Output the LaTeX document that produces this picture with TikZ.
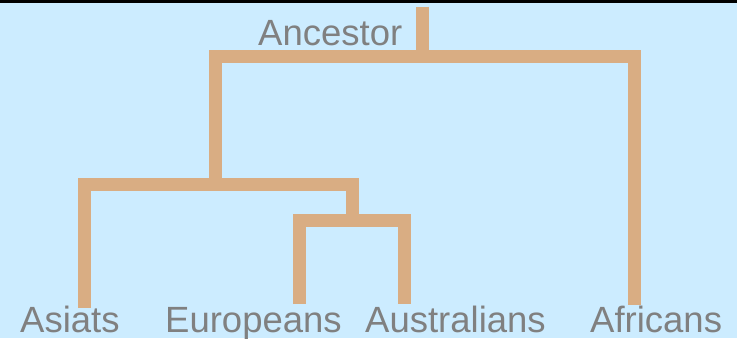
\documentclass[tikz,border=0pt]{standalone}
\usepackage{fontspec}
\setmainfont{Liberation Sans}
\definecolor{skyback}{HTML}{CCECFF}
\definecolor{branch}{HTML}{D9AD83}
\definecolor{labelgray}{HTML}{808080}
\begin{document}
\begin{tikzpicture}[x=1pt,y=-1pt,
  limb/.style={draw=branch,line width=13pt,line join=miter,line cap=butt},
  lab/.style={inner sep=0pt,text=labelgray,font=\fontsize{36.5}{40}\selectfont,anchor=base west}]
  % background and top rule
  \fill[skyback] (0,0) rectangle (737,338);
  \useasboundingbox (0,0) rectangle (737,338);
  \fill[black] (0,0) rectangle (737,2.5);

  % tree points
  \coordinate (top)  at (422.5,6.5);
  \coordinate (root) at (422.5,56);
  \coordinate (n1)   at (215,184.5);
  \coordinate (n2)   at (352.5,220.5);
  \coordinate (asE)  at (84,308);
  \coordinate (euE)  at (299.5,304);
  \coordinate (auE)  at (404.5,304);
  \coordinate (afE)  at (634.5,305);

  % branches
  \draw[limb] (top) -- (root);
  \draw[limb] (n1) |- (root) -| (afE);
  \draw[limb] (asE) |- (n1) -| (n2);
  \draw[limb] (euE) |- (n2) -| (auE);

  % labels
  \node[lab] (anc) at (258,45)  {Ancestor};
  \node[lab] (as)  at (20,332)  {Asiats};
  \node[lab] (eu)  at (165,332) {Europeans};
  \node[lab] (au)  at (365,332) {Australians};
  \node[lab] (af)  at (590,332) {Africans};
\end{tikzpicture}
\end{document}
